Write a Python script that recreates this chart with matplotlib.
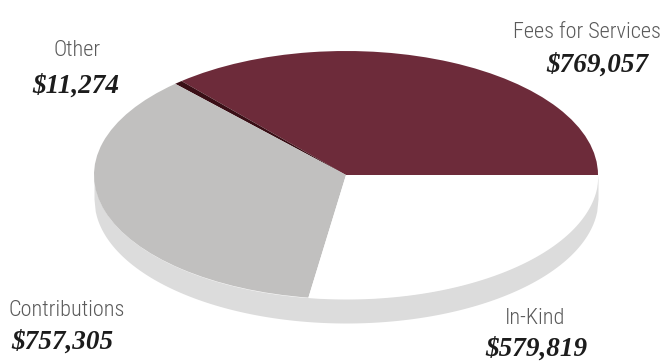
import numpy as np
import matplotlib.pyplot as plt

# Revenue sources
labels = ['Fees for Services', 'Other', 'Contributions', 'In-Kind']
values = [769057, 11274, 757305, 579819]
colors = ['#6d2b3a', '#3a0f16', '#c1c0bf', '#ffffff']

# label positions in pixels (name, value) and alignment
name_pos = [(661, 33), (77, 51), (9, 311), (535, 318)]
value_pos = [(597, 65), (76, 86), (11, 342), (536, 349)]
aligns = ['right', 'center', 'left', 'center']
val_aligns = ['center', 'center', 'left', 'center']

W, H = 665, 362
cx, cy, rx, ry = 346, 175, 252, 124
depth = 24 / ry

fig = plt.figure(figsize=(W / 100, H / 100), dpi=100)
ax = fig.add_axes([0, 0, 1, 1])

# side wall of the disc
xs = np.linspace(-1, 1, 400)
top = -np.sqrt(1 - xs ** 2)
ax.fill_between(xs, top, top - depth, color='#dcdcdc', lw=0)

# top face: pie squashed into an ellipse via non-equal aspect
ax.pie(values, colors=colors, startangle=0, counterclock=True, radius=1,
       wedgeprops=dict(linewidth=0))
ax.set_aspect('auto')
ax.set_xlim(-cx / rx, (W - cx) / rx)
ax.set_ylim((cy - H) / ry, cy / ry)
ax.axis('off')

name_font = dict(family=['Roboto Condensed', 'Roboto', 'DejaVu Sans'], fontsize=16,
                 fontweight='light', fontstretch='condensed', color='#5a5a5a')
val_font = dict(family=['Liberation Serif', 'DejaVu Serif'], fontsize=19.5,
                fontweight='bold', fontstyle='italic', color='#1c1c1c')

for i in range(len(labels)):
    nx, ny = name_pos[i]
    vx, vy = value_pos[i]
    fig.text(nx / W, 1 - ny / H, labels[i], ha=aligns[i], va='center', **name_font)
    fig.text(vx / W, 1 - vy / H, '${:,}'.format(values[i]), ha=val_aligns[i],
             va='center', **val_font)

fig.savefig('out.png', dpi=100)
